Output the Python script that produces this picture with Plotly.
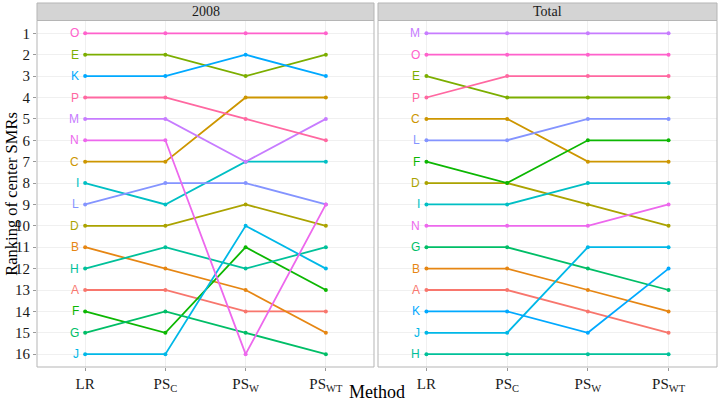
import plotly.graph_objects as go

centers = list("ABCDEFGHIJKLMNOP")
methods = ["LR", "PS<sub>C</sub>", "PS<sub>W</sub>", "PS<sub>WT</sub>"]
panels = ["2008", "Total"]

# ranks per center (A..P) for each method, panel "2008"
rank_2008_LR = [13, 11, 7, 10, 2, 14, 15, 12, 8, 16, 3, 9, 5, 6, 1, 4]
rank_2008_PSC = [13, 12, 7, 10, 2, 15, 14, 11, 9, 16, 3, 8, 5, 6, 1, 4]
rank_2008_PSW = [14, 13, 4, 9, 3, 11, 15, 12, 7, 10, 2, 8, 7, 16, 1, 5]
rank_2008_PSWT = [14, 15, 4, 10, 2, 13, 16, 11, 7, 12, 3, 9, 5, 9, 1, 6]

# panel "Total"
rank_tot_LR = [13, 12, 5, 8, 3, 7, 11, 16, 9, 15, 14, 6, 1, 10, 2, 4]
rank_tot_PSC = [13, 12, 5, 8, 4, 8, 11, 16, 9, 15, 14, 6, 1, 10, 2, 3]
rank_tot_PSW = [14, 13, 7, 9, 4, 6, 12, 16, 8, 11, 15, 5, 1, 10, 2, 3]
rank_tot_PSWT = [15, 14, 7, 10, 4, 6, 13, 16, 8, 11, 12, 5, 1, 9, 2, 3]

colors = ["#F8766D", "#E68613", "#CD9600", "#ABA300", "#7CAE00", "#0CB702",
          "#00BE67", "#00C19A", "#00BFC4", "#00B8E7", "#00A9FF", "#8494FF",
          "#C77CFF", "#ED68ED", "#FF61CC", "#FF68A1"]

panel_data = [
    [rank_2008_LR, rank_2008_PSC, rank_2008_PSW, rank_2008_PSWT],
    [rank_tot_LR, rank_tot_PSC, rank_tot_PSW, rank_tot_PSWT],
]

W, H = 720, 402
serif = "Liberation Serif"
sans = "Liberation Sans"

fig = go.Figure()
annotations = []
xidx = list(range(len(methods)))
for p, data in enumerate(panel_data):
    xa = "x" if p == 0 else "x2"
    ya = "y" if p == 0 else "y2"
    for i, c in enumerate(centers):
        ys = [data[m][i] for m in range(len(methods))]
        fig.add_trace(go.Scatter(
            x=xidx, y=ys, mode="lines+markers", xaxis=xa, yaxis=ya,
            line=dict(color=colors[i], width=1.8),
            marker=dict(color=colors[i], size=4),
            showlegend=False, name=c))
        annotations.append(dict(
            x=0, y=ys[0], xref=xa, yref=ya, text=c, showarrow=False,
            xanchor="right", yanchor="middle", xshift=-4,
            font=dict(family=sans, size=12, color=colors[i])))

# geometry
py_top, py_bot = 20.5, 367
doms = [(37, 374), (378, 717)]
ydom = [1 - py_bot / H, 1 - py_top / H]
strip_top = 1 - 3 / H

axis_common = dict(
    range=[-0.6, 3.6], tickmode="array", tickvals=xidx, ticktext=methods,
    showgrid=True, gridcolor="#F0F0F0", gridwidth=1, zeroline=False,
    ticks="outside", ticklen=3, tickcolor="#999999", showline=False,
    automargin=False,
    tickfont=dict(family=serif, size=15, color="#1a1a1a"),
)
yaxis_common = dict(
    range=[16.6, 0.4], tickmode="array", tickvals=list(range(1, 17)),
    showgrid=True, gridcolor="#F0F0F0", gridwidth=1, zeroline=False,
    showline=False, automargin=False,
    domain=ydom,
)

shapes = []
for k, (x0, x1) in enumerate(doms):
    shapes.append(dict(type="rect", xref="paper", yref="paper",
                       x0=x0 / W, x1=x1 / W, y0=ydom[0], y1=ydom[1],
                       line=dict(color="#B5B5B5", width=1), fillcolor="rgba(0,0,0,0)"))
    shapes.append(dict(type="rect", xref="paper", yref="paper",
                       x0=x0 / W, x1=x1 / W, y0=ydom[1], y1=strip_top,
                       line=dict(color="#B5B5B5", width=1), fillcolor="#D4D4D4"))
    annotations.append(dict(x=(x0 + x1) / 2 / W, y=(ydom[1] + strip_top) / 2,
                            xref="paper", yref="paper", text=panels[k],
                            showarrow=False, xanchor="center", yanchor="middle",
                            font=dict(family=serif, size=14, color="#1a1a1a")))

annotations.append(dict(x=(doms[0][0] + doms[1][1]) / 2 / W, y=1 - 392 / H,
                        xref="paper", yref="paper", text="Method", showarrow=False,
                        xanchor="center", yanchor="middle",
                        font=dict(family=serif, size=18, color="#000000")))
annotations.append(dict(x=12 / W, y=(ydom[0] + ydom[1]) / 2,
                        xref="paper", yref="paper", text="Ranking of center SMRs",
                        showarrow=False, textangle=-90, xanchor="center", yanchor="middle",
                        font=dict(family=serif, size=16.5, color="#000000")))

fig.update_layout(
    width=W, height=H, margin=dict(l=0, r=0, t=0, b=0),
    paper_bgcolor="white", plot_bgcolor="white",
    xaxis=dict(domain=[doms[0][0] / W, doms[0][1] / W], anchor="y", **axis_common),
    xaxis2=dict(domain=[doms[1][0] / W, doms[1][1] / W], anchor="y2", **axis_common),
    yaxis=dict(anchor="x", ticks="outside", ticklen=3, tickcolor="#999999",
               tickfont=dict(family=serif, size=15, color="#1a1a1a"), **yaxis_common),
    yaxis2=dict(anchor="x2", showticklabels=False, ticks="", matches="y", **yaxis_common),
    shapes=shapes, annotations=annotations,
)

fig.write_html("out.html",
               config={"displayModeBar": False},
               post_script="document.body.style.margin='0';document.body.style.overflow='hidden';")
